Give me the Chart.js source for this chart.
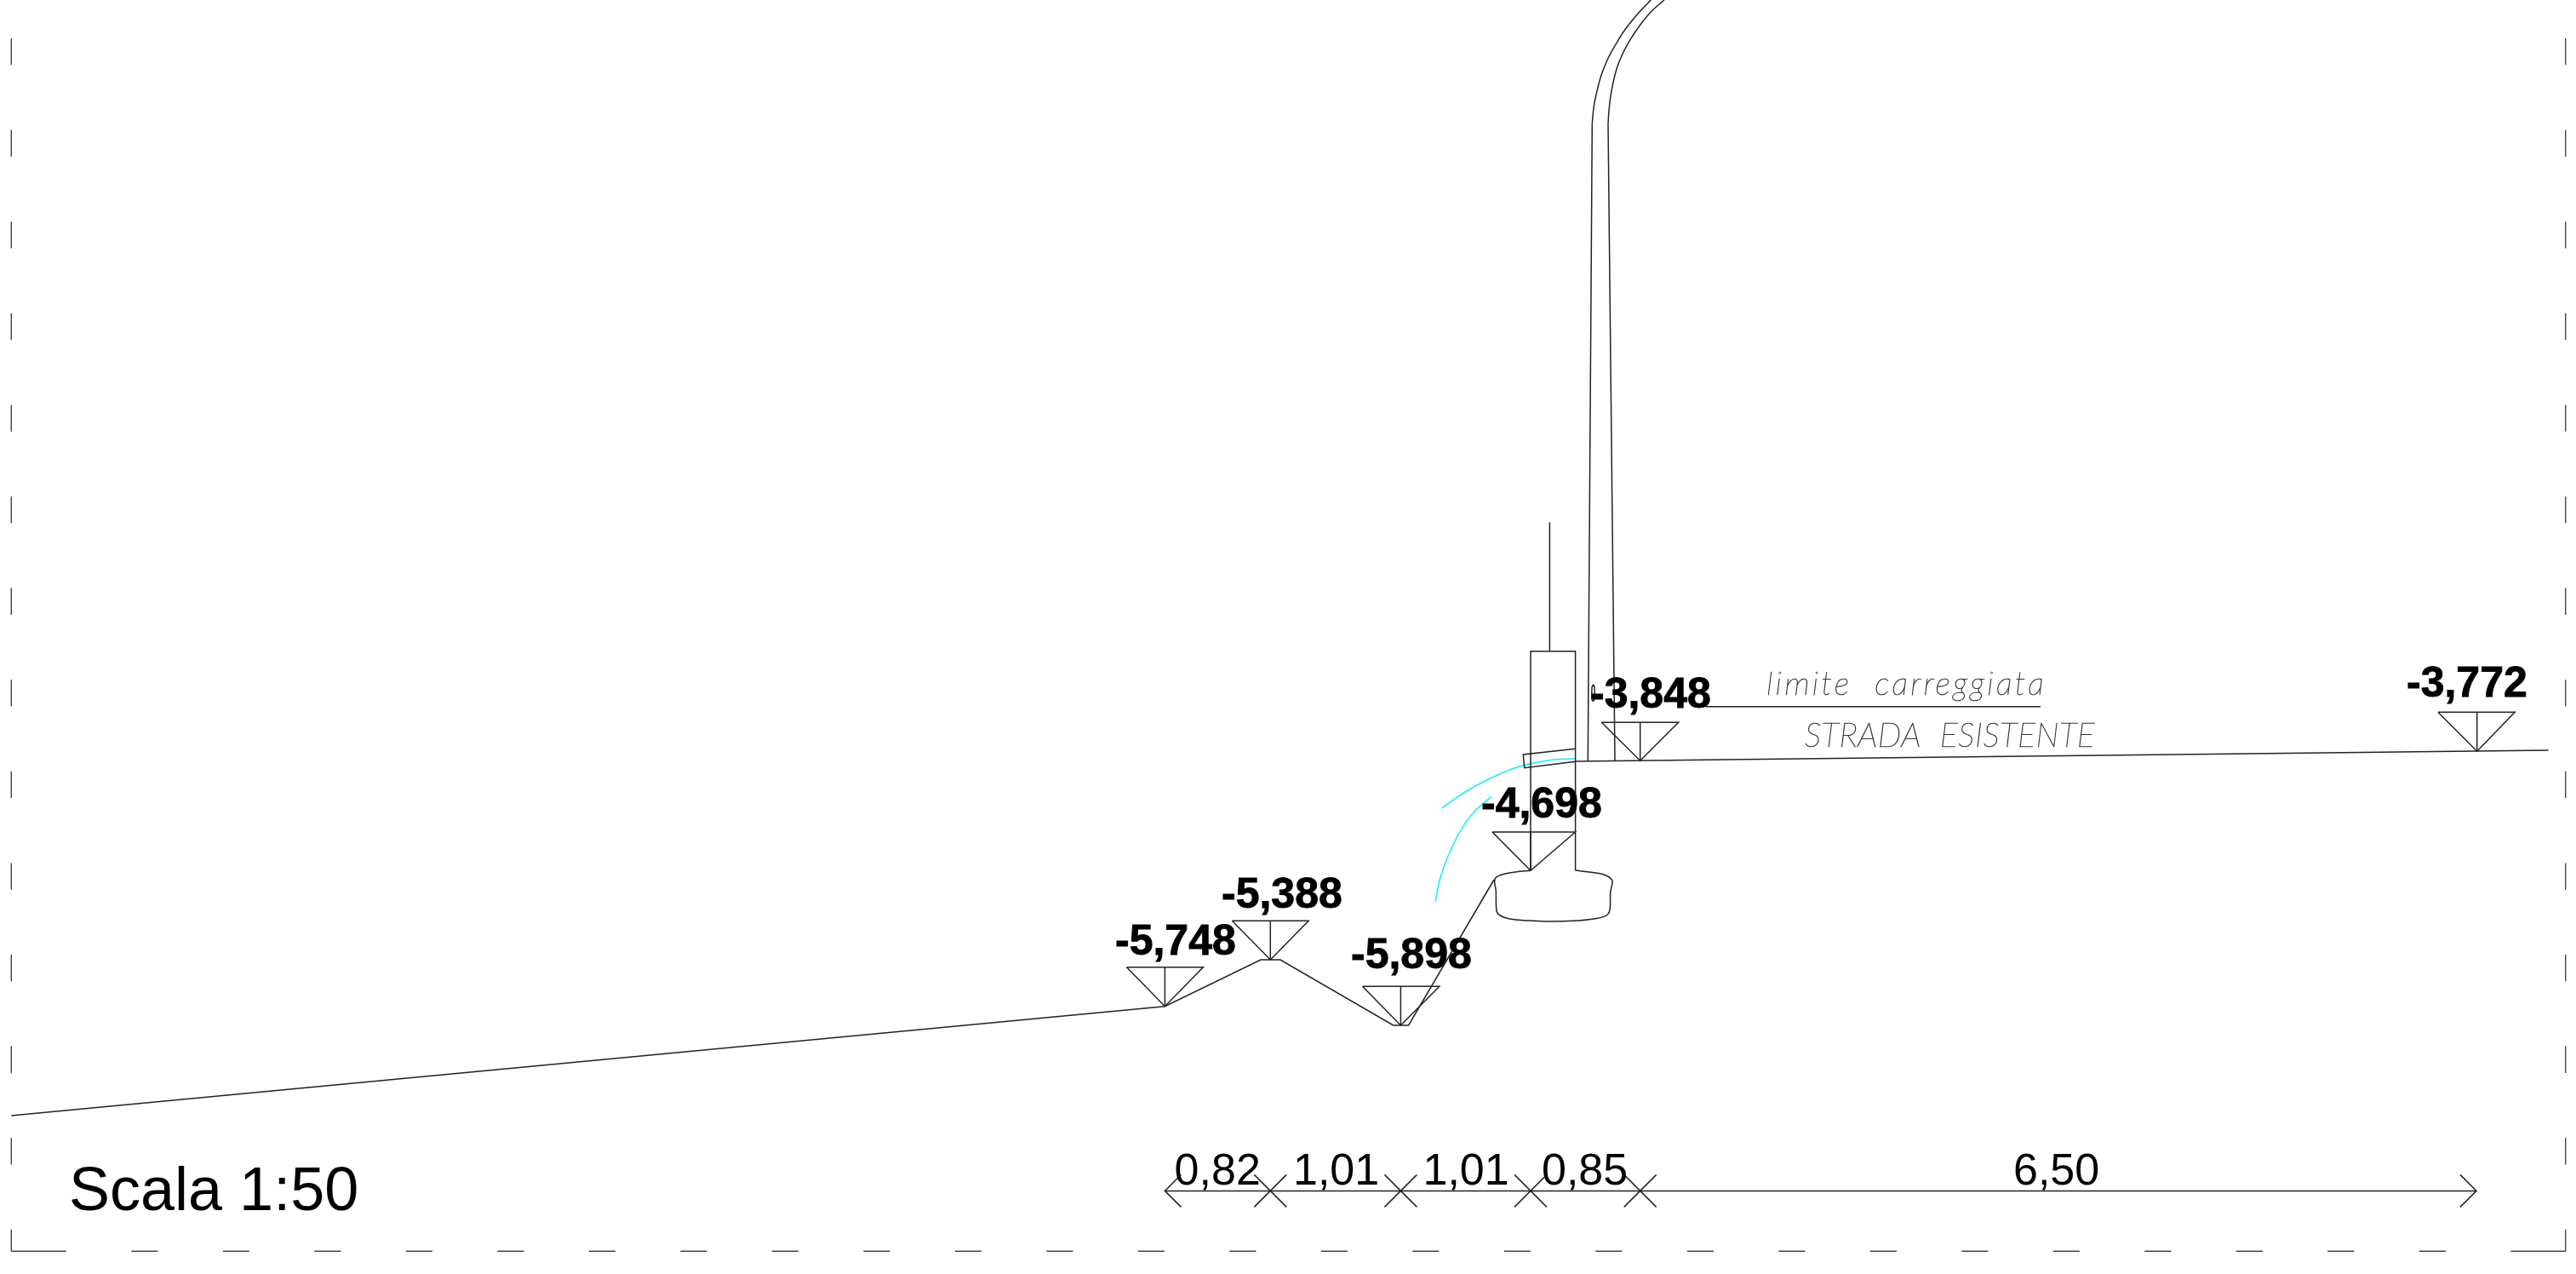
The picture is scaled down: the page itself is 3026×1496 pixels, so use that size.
<!DOCTYPE html>
<html>
<head>
<meta charset="utf-8">
<style>html,body{margin:0;padding:0;background:#fff;overflow:hidden}canvas{display:block}</style>
<script src="https://cdn.jsdelivr.net/npm/chart.js@4"></script>
</head>
<body>
<canvas id="c" width="3026" height="1496" style="width:3026px;height:1496px"></canvas>
<script>
// Section geometry, in drawing units
const groundX = [13.3, 1368.4, 1481, 1504, 1636.7, 1654.6, 1755];
const groundY = [1310, 1181.7, 1127, 1127, 1204, 1204, 1033];
const roadX = [1851, 2993.5];
const roadY = [894, 881];
const limitX = [2004, 2397];
const limitY = [829.7, 829.7];
const postX = [1820.4, 1820.4];
const postY = [613.3, 764.7];
const kerbX = [1798, 1798, 1850.6, 1850.6];
const kerbY = [1022.3, 764.7, 764.7, 1022.3];
const slabX = [1850.7, 1789.3, 1790.7, 1850.7];
const slabY = [879.3, 886, 901.7, 894.3];
const wallOuterX = [1939.3, 1925, 1910, 1898.3, 1888.3, 1881, 1876, 1872.3, 1870.3];
const wallOuterY = [0, 15, 33.3, 51.7, 70, 88.3, 106.7, 125, 145.3];
const wallOuterLowX = [1870.3, 1865.3];
const wallOuterLowY = [145.3, 894];
const wallInnerX = [1955, 1940, 1926.7, 1915, 1906, 1899.3, 1895, 1891.7, 1890, 1889];
const wallInnerY = [0, 13.3, 29.3, 46.7, 63.3, 80, 96.7, 115, 130, 145.3];
const wallInnerLowX = [1889, 1897];
const wallInnerLowY = [145.3, 894];
const footX = [1798, 1780, 1763.3, 1756, 1757.3, 1757.7, 1760, 1773.3, 1796.7, 1820, 1853.3, 1876.7, 1888.3, 1891.3, 1891.7, 1894, 1893.3, 1885, 1866.7, 1850.7];
const footY = [1022.3, 1024, 1027.3, 1032.3, 1046.7, 1066.7, 1073.3, 1079, 1081, 1082, 1081, 1078.3, 1074, 1066.7, 1048.3, 1036.7, 1032.7, 1027.3, 1024, 1022];
const curveAX = [1850.5, 1825.5, 1802.5, 1779.6, 1759.2, 1738.8, 1715.8, 1693.9];
const curveAY = [891, 892, 896, 901.7, 910, 920, 933.3, 949];
const curveBX = [1752, 1728.6, 1708, 1693, 1686];
const curveBY = [935.3, 956.7, 990, 1026.7, 1059];
const loopX = [1870, 1870, 1871.5, 1873, 1873, 1871.5, 1870];
const loopY = [807, 821, 823.3, 821, 807, 804, 807];

// Level markers: elevation label, apex of the triangle
const levelLabels = ['-5,748', '-5,388', '-5,898', '-4,698', '-3,848', '-3,772'];
const levelApexX = [1368.4, 1492.3, 1645.4, 1798, 1926.7, 2909.7];
const levelApexY = [1181.7, 1127, 1204, 1022.3, 893.3, 882.3];
const levelLeftX = [1323.5, 1447.4, 1600.5, 1753, 1881.3, 2863.9];
const levelRightX = [1413.3, 1537.2, 1690.8, 1850.5, 1971.7, 2954.2];
const levelTopY = [1135.7, 1081.3, 1158.3, 977, 848.3, 836.3];
const levelTextX = [1310, 1435, 1587, 1740, 1868, 2827];
const levelTextY = [1120.7, 1066, 1136.5, 960, 830.5, 818];

// Dimension chain
const dimStops = [1368.4, 1492.3, 1645.4, 1798, 1926.7, 2909];
const dimY = 1398.4;
const dimLabels = ['0,82', '1,01', '1,01', '0,85', '6,50'];
const dimTextX = [1379.6, 1519, 1671.5, 1811, 2365];
const dimTextY = [1390.7, 1390.7, 1390.7, 1390.7, 1390.7];

// Notes
const noteTexts = ['limite  carreggiata', 'STRADA  ESISTENTE', 'Scala 1:50'];
const noteX = [2075, 2120, 81];
const noteY = [815.7, 876.7, 1421];

// Sheet frame
const frameLeft = 13.3, frameRight = 3013.7, frameBottom = 1469.3, frameTop = 45;

const ink = '#222';
function pts(xs, ys) { return xs.map((x, i) => ({ x, y: ys[i] })); }
function line(xs, ys, extra) {
  return Object.assign({
    data: pts(xs, ys), showLine: true, borderColor: ink, borderWidth: 1.5,
    pointRadius: 0, pointHoverRadius: 0, fill: false, tension: 0
  }, extra || {});
}

const datasets = [
  line(groundX, groundY), line(roadX, roadY), line(limitX, limitY),
  line(postX, postY), line(kerbX, kerbY), line(slabX, slabY),
  line(wallOuterX, wallOuterY, { tension: 0.4 }), line(wallOuterLowX, wallOuterLowY),
  line(wallInnerX, wallInnerY, { tension: 0.4 }), line(wallInnerLowX, wallInnerLowY),
  line(footX, footY, { tension: 0.4 }), line(loopX, loopY, { tension: 0.3 }),
  line(curveAX, curveAY, { borderColor: '#19f0f0', tension: 0.4, borderWidth: 1.6 }),
  line(curveBX, curveBY, { borderColor: '#19f0f0', tension: 0.4, borderWidth: 1.6 })
];

levelApexX.forEach((ax, i) => {
  datasets.push(line(
    [levelLeftX[i], levelRightX[i], ax, levelLeftX[i]],
    [levelTopY[i], levelTopY[i], levelApexY[i], levelTopY[i]]));
  datasets.push(line([ax, ax], [levelTopY[i], levelApexY[i]]));
});

datasets.push(line([dimStops[0], dimStops[dimStops.length - 1]], [dimY, dimY]));
const tick = 19;
dimStops.forEach((s, i) => {
  if (i === 0) {
    datasets.push(line([s + tick, s, s + tick], [dimY - tick, dimY, dimY + tick]));
  } else if (i === dimStops.length - 1) {
    datasets.push(line([s - tick, s, s - tick], [dimY - tick, dimY, dimY + tick]));
  } else {
    datasets.push(line([s - tick, s + tick], [dimY + tick, dimY - tick]));
    datasets.push(line([s - tick, s + tick], [dimY - tick, dimY + tick]));
  }
});

const frameStyle = { borderColor: '#444', borderWidth: 1.4 };
datasets.push(line([frameLeft, frameLeft], [frameTop, frameBottom], Object.assign({ borderDash: [31.3, 76.3] }, frameStyle)));
datasets.push(line([frameRight, frameRight], [frameTop, frameBottom], Object.assign({ borderDash: [31.3, 76.3] }, frameStyle)));
datasets.push(line([154.3, 2873], [frameBottom, frameBottom], Object.assign({ borderDash: [31.1, 76.4] }, frameStyle)));
datasets.push(line([frameLeft, 77.7], [frameBottom, frameBottom], frameStyle));
datasets.push(line([2949.3, frameRight], [frameBottom, frameBottom], frameStyle));

const textPlugin = {
  id: 'drawingText',
  afterDatasetsDraw(chart) {
    const { ctx, scales } = chart;
    const px = v => scales.x.getPixelForValue(v), py = v => scales.y.getPixelForValue(v);
    ctx.save();
    ctx.textAlign = 'left';
    ctx.textBaseline = 'alphabetic';
    ctx.fillStyle = '#000';
    ctx.strokeStyle = '#000';
    ctx.font = 'bold 50px "Liberation Sans"';
    ctx.lineWidth = 0.9;
    levelLabels.forEach((t, i) => {
      ctx.fillText(t, px(levelTextX[i]), py(levelTextY[i]));
      ctx.strokeText(t, px(levelTextX[i]), py(levelTextY[i]));
    });
    ctx.font = '52px "Liberation Sans"';
    dimLabels.forEach((t, i) => ctx.fillText(t, px(dimTextX[i]), py(dimTextY[i])));
    ctx.font = '72px "Liberation Sans"';
    ctx.fillText(noteTexts[2], px(noteX[2]), py(noteY[2]));
    ctx.strokeStyle = '#333';
    ctx.lineWidth = 0.7;
    ctx.font = 'italic 100 38px Lato, Roboto, sans-serif';
    ctx.letterSpacing = '3.2px';
    ctx.strokeText(noteTexts[0], px(noteX[0]), py(noteY[0]));
    ctx.font = 'italic 100 39px Lato, Roboto, sans-serif';
    ctx.letterSpacing = '0.5px';
    ctx.strokeText(noteTexts[1], px(noteX[1]), py(noteY[1]));
    ctx.restore();
  }
};

new Chart(document.getElementById('c'), {
  type: 'scatter',
  data: { datasets },
  plugins: [textPlugin],
  options: {
    responsive: false, animation: false, devicePixelRatio: 1,
    layout: { padding: 0 },
    events: [],
    plugins: { legend: { display: false }, tooltip: { enabled: false }, title: { display: false } },
    scales: {
      x: { type: 'linear', min: 0, max: 3026, display: false },
      y: { type: 'linear', min: 0, max: 1496, reverse: true, display: false }
    }
  }
});
</script>
</body>
</html>
